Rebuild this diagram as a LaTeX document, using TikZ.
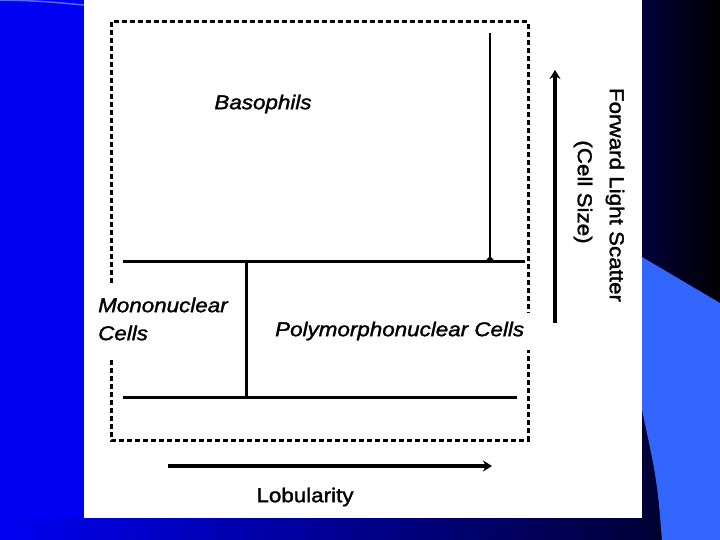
\documentclass[tikz,border=0pt]{standalone}
\usepackage{fontspec}
\setmainfont{Liberation Sans}
\newfontfamily\lblfont[FakeStretch=1.12, FakeBold=1.6]{Liberation Sans}
\usetikzlibrary{arrows.meta}
\definecolor{slideblue}{HTML}{0000F2}
\definecolor{navy}{HTML}{00003A}
\definecolor{paleblue}{HTML}{3366FF}
\definecolor{rimblue}{HTML}{4D6BFF}

\begin{document}
\begin{tikzpicture}[x=1pt, y=-1pt,
  frame/.style={black, line width=3pt, dash pattern=on 5pt off 3pt},
  wall/.style={black, line width=3pt},
  thinwall/.style={black, line width=2.4pt},
  axis/.style={black, line width=3.4pt, -{Stealth[length=9pt, width=11pt]}},
  lbl/.style={font=\lblfont\fontsize{20}{28}\selectfont\itshape, inner sep=0pt},
  ttl/.style={font=\lblfont\fontsize{20}{28}\selectfont, inner sep=0pt}
]
\useasboundingbox (0,0) rectangle (720,540);
% slide background
\fill[slideblue] (0,0) rectangle (720,540);
\shade[left color=navy, right color=black] (642,0) rectangle (720,540);
\shade[left color=slideblue, right color=navy] (0,518) rectangle (642,540);
\fill[paleblue] (642,257) -- (720,303) -- (720,540) -- (662,540)
  .. controls (657,480) .. (642,410) -- cycle;
\draw[rimblue, line width=1.5pt] (0,0) .. controls (40,1) .. (84,5);
\fill[white] (84,0) rectangle (642,518);

% frame corners and gaps
\coordinate (tl) at (111,22);
\coordinate (tr) at (528,22);
\coordinate (bl) at (111,440);
\coordinate (br) at (528,440);
\coordinate (lgapa) at (111,283);
\coordinate (lgapb) at (111,360);
\coordinate (rgapa) at (528,313);
\coordinate (rgapb) at (528,350);
\draw[frame] (lgapa) -- (tl) -- (tr) -- (rgapa);
\draw[frame] (lgapb) -- (bl) -- (br) -- (rgapb);

% gates
\coordinate (upl) at (123,261);
\coordinate (upr) at (525,261);
\coordinate (lol) at (123,397);
\coordinate (lor) at (517,397);
\coordinate (splt) at (246,261);
\coordinate (splb) at (246,397);
\coordinate (basb) at (490,261);
\coordinate (bast) at (490,33);
\draw[wall] (upl) -- (upr);
\draw[wall] (lol) -- (lor);
\draw[wall] (splt) -- (splb);
\draw[thinwall, {Triangle[reversed, length=5pt, width=9pt]}-] (basb) -- (bast);

% populations
\node[lbl] (baso) at (263,104) {Basophils};
\node[lbl, anchor=west, align=left] (mono) at (98,319) {Mononuclear\\Cells};
\node[lbl, anchor=west] (poly) at (275,331) {Polymorphonuclear Cells};

% axes
\coordinate (xa) at (168,466);
\coordinate (xb) at (492,466);
\coordinate (ya) at (555,323);
\coordinate (yb) at (555,70);
\draw[axis] (xa) -- (xb);
\draw[axis] (ya) -- (yb);
\node[ttl] (lob) at (305,497) {Lobularity};
\node[ttl, rotate=-90] (fls) at (615,195) {Forward Light Scatter};
\node[ttl, rotate=-90] (csz) at (583,192) {(Cell Size)};
\end{tikzpicture}
\end{document}
